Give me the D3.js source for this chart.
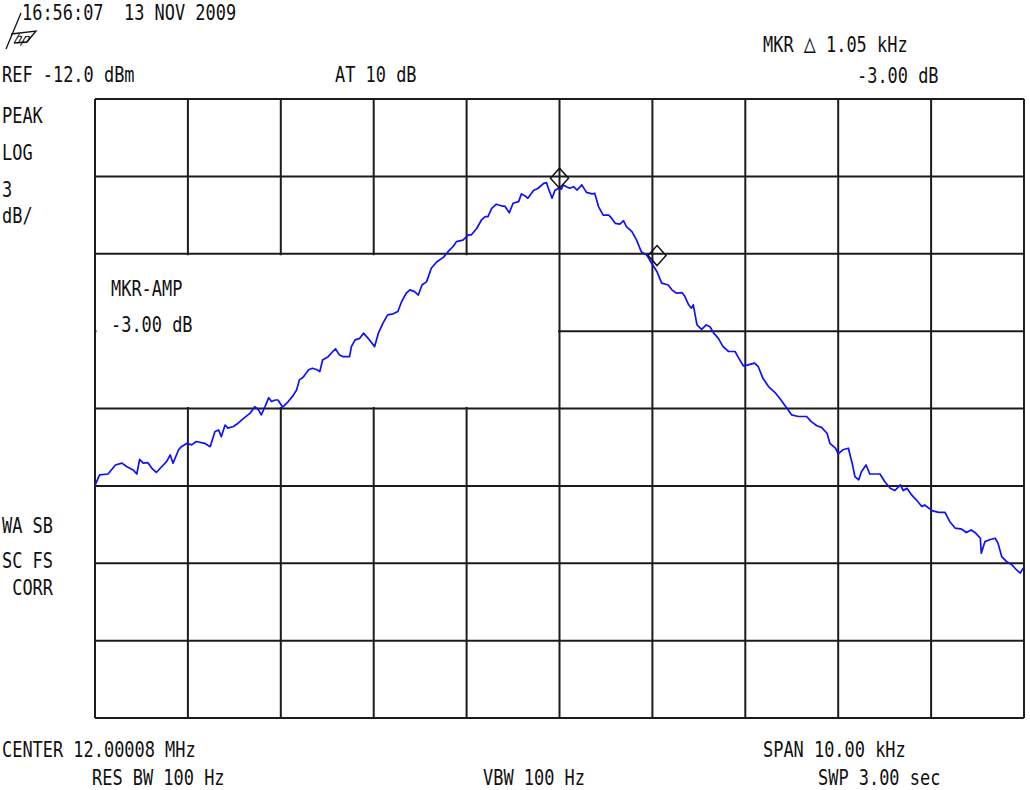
<!DOCTYPE html>
<html>
<head>
<meta charset="utf-8">
<script src="https://cdn.jsdelivr.net/npm/d3@7"></script>
<style>
  html, body { margin: 0; padding: 0; background: #fff; }
  svg { display: block; }
  text { font-family: "DejaVu Sans Mono", "Liberation Mono", monospace; font-size: 22px; fill: #111; white-space: pre; }
</style>
</head>
<body>
<svg id="chart" width="1030" height="790"></svg>
<script>
// ---- Data (frequency offset from center in kHz, amplitude in dBm) ----
const traceFreq = [
  -5.00,-4.95,-4.86,-4.78,-4.71,-4.66,-4.59,-4.55,-4.52,-4.48,-4.43,-4.39,-4.34,-4.28,-4.23,-4.19,-4.16,-4.10,-4.07,-4.01,
  -3.96,-3.91,-3.82,-3.76,-3.71,-3.67,-3.64,-3.60,-3.57,-3.51,-3.46,-3.40,-3.33,-3.28,-3.24,-3.21,-3.17,-3.13,-3.10,-3.06,
  -3.03,-2.98,-2.92,-2.87,-2.83,-2.80,-2.76,-2.70,-2.66,-2.61,-2.58,-2.55,-2.49,-2.44,-2.41,-2.37,-2.33,-2.26,-2.24,-2.20,
  -2.15,-2.11,-2.06,-1.99,-1.95,-1.90,-1.85,-1.79,-1.74,-1.70,-1.65,-1.61,-1.56,-1.52,-1.48,-1.43,-1.38,-1.32,-1.25,-1.20,
  -1.14,-1.11,-1.04,-0.98,-0.95,-0.89,-0.84,-0.80,-0.77,-0.73,-0.68,-0.62,-0.59,-0.54,-0.50,-0.44,-0.41,-0.37,-0.34,-0.28,
  -0.23,-0.17,-0.14,-0.12,-0.08,-0.05,-0.01,
  0.02,0.04,0.08,0.11,0.15,0.19,0.24,0.29,0.35,0.38,0.42,0.47,0.53,0.56,0.60,0.65,0.69,0.72,0.78,0.83,
  0.88,0.94,0.99,1.05,1.10,1.17,1.21,1.26,1.32,1.35,1.39,1.42,1.44,1.48,1.53,1.58,1.62,1.66,1.71,1.76,
  1.82,1.89,1.92,1.98,2.03,2.10,2.14,2.19,2.25,2.32,2.37,2.43,2.50,2.57,2.66,2.71,2.77,2.82,2.88,2.91,
  2.97,3.00,3.05,3.11,3.15,3.18,3.22,3.25,3.30,3.34,3.40,3.45,3.50,3.56,3.61,3.67,3.70,3.74,3.79,3.84,
  3.90,3.93,4.01,4.08,4.15,4.20,4.26,4.33,4.38,4.43,4.48,4.53,4.54,4.58,4.63,4.69,4.72,4.76,4.81,4.87,
  4.92,4.96,4.99
];
const traceAmp = [
  -26.98,-26.57,-26.54,-26.19,-26.12,-26.25,-26.38,-26.54,-25.97,-26.12,-26.10,-26.31,-26.48,-26.25,-26.06,-25.80,-26.12,-25.60,-25.48,-25.35,
  -25.41,-25.28,-25.35,-25.48,-24.90,-24.83,-25.09,-24.64,-24.76,-24.70,-24.57,-24.38,-24.18,-23.93,-24.05,-24.25,-23.93,-23.58,-23.73,-23.67,
  -23.67,-23.95,-23.73,-23.51,-23.28,-22.89,-22.79,-22.50,-22.44,-22.50,-22.57,-22.12,-21.99,-21.79,-21.69,-21.92,-21.99,-21.99,-21.60,-21.34,
  -21.28,-21.08,-21.28,-21.60,-21.08,-20.69,-20.37,-20.33,-20.24,-19.86,-19.53,-19.40,-19.47,-19.60,-19.21,-19.08,-18.56,-18.31,-18.14,-17.92,
  -17.70,-17.53,-17.47,-17.27,-17.27,-17.01,-16.69,-16.56,-16.56,-16.24,-16.08,-16.15,-16.15,-16.41,-16.04,-15.98,-15.68,-15.76,-15.85,-15.55,
  -15.46,-15.27,-15.24,-15.46,-15.85,-15.55,-15.46,
  -15.50,-15.33,-15.41,-15.46,-15.40,-15.53,-15.33,-15.62,-15.68,-15.66,-16.17,-16.50,-16.50,-16.62,-16.82,-16.85,-16.72,-16.95,-17.14,-17.47,
  -17.92,-18.05,-18.36,-18.70,-19.14,-19.21,-19.40,-19.53,-19.51,-19.66,-19.98,-20.11,-19.98,-20.76,-20.93,-20.76,-20.83,-21.08,-21.28,-21.60,
  -21.79,-21.79,-21.99,-22.35,-22.31,-22.24,-22.38,-22.83,-23.15,-23.38,-23.60,-23.90,-24.25,-24.31,-24.31,-24.51,-24.67,-24.73,-24.96,-25.35,
  -25.54,-25.76,-25.60,-25.54,-26.12,-26.64,-26.77,-26.45,-26.19,-26.54,-26.54,-26.54,-26.83,-27.09,-27.18,-26.96,-27.18,-27.09,-27.35,-27.54,
  -27.80,-27.74,-27.96,-28.03,-28.03,-28.38,-28.64,-28.68,-28.81,-28.71,-28.83,-29.03,-29.61,-29.16,-29.09,-29.03,-29.22,-29.74,-29.93,-30.06,
  -30.26,-30.38,-30.19
];
const markerFreq = [0.00, 1.05];
const markerAmp = [-15.46, -18.46];

// axis settings (from the annotations): REF -12 dBm, 3 dB/div, 8 divs; span 10 kHz, 10 divs
const freqTicks = [-5,-4,-3,-2,-1,0,1,2,3,4,5];
const ampTicks = [-12,-15,-18,-21,-24,-27,-30,-33,-36];
// blanked annotation window (freq range, amplitude range)
const boxFreq = [-5, 0];
const boxAmp = [-24, -18];

// text annotations
const headerText = "16:56:07  13 NOV 2009";
const refText = "REF -12.0 dBm";
const attenText = "AT 10 dB";
const mkrParts = ["MKR ", "\u25B3", " 1.05 kHz"];
const mkrAmpText = "-3.00 dB";
const sideTop = ["PEAK", "LOG", "3", "dB/"];
const sideBottom = ["WA SB", "SC FS", " CORR"];
const boxText = ["MKR-AMP", "-3.00 dB"];
const centerText = "CENTER 12.00008 MHz";
const resText = "RES BW 100 Hz";
const vbwText = "VBW 100 Hz";
const spanText = "SPAN 10.00 kHz";
const swpText = "SWP 3.00 sec";

// ---- Drawing ----
const svg = d3.select("#chart");
const plot = {left: 95, top: 99, right: 1024, bottom: 718};
const x = d3.scaleLinear().domain([-5, 5]).range([plot.left, plot.right]);
const y = d3.scaleLinear().domain([-36, -12]).range([plot.bottom, plot.top]);

const gridColor = "#1c1c1c";
const grid = svg.append("g");
grid.selectAll("line.v").data(freqTicks).enter().append("line")
  .attr("x1", d => x(d)).attr("x2", d => x(d))
  .attr("y1", y(-12)).attr("y2", y(-36))
  .attr("stroke", gridColor).attr("stroke-width", 2);
grid.selectAll("line.h").data(ampTicks).enter().append("line")
  .attr("x1", x(-5)).attr("x2", x(5))
  .attr("y1", d => y(d)).attr("y2", d => y(d))
  .attr("stroke", gridColor).attr("stroke-width", 2);

// blank out the annotation window interior
svg.append("rect")
  .attr("x", x(boxFreq[0]) + 1.5)
  .attr("y", y(boxAmp[1]) + 1.5)
  .attr("width", x(boxFreq[1]) - x(boxFreq[0]) - 3)
  .attr("height", y(boxAmp[0]) - y(boxAmp[1]) - 3)
  .attr("fill", "#fff");

// trace
const traceData = traceFreq.map((f, i) => [f, traceAmp[i]]);
svg.append("path")
  .datum(traceData)
  .attr("fill", "none")
  .attr("stroke", "#1010ff")
  .attr("stroke-width", 1.7)
  .attr("stroke-linejoin", "round")
  .attr("d", d3.line().x(d => x(d[0])).y(d => y(d[1])));

// markers (diamonds sitting on the trace point)
markerFreq.forEach((f, i) => {
  const cx = x(f), by = y(markerAmp[i]);
  svg.append("path")
    .attr("d", `M${cx},${by} L${cx + 9},${by - 10} L${cx},${by - 20} L${cx - 9},${by - 10} Z`)
    .attr("fill", "none").attr("stroke", "#111").attr("stroke-width", 1.5);
});

// text helper: condensed monospaced look
function label(str, tx, ty) {
  return svg.append("text")
    .attr("transform", `translate(${tx},${ty}) scale(0.77,1)`)
    .text(str);
}

// hp logo
const logo = svg.append("g").attr("stroke", "#111").attr("fill", "none").attr("stroke-width", 1.3);
logo.append("line").attr("x1", 6).attr("y1", 49).attr("x2", 21).attr("y2", 13);
logo.append("path").attr("d", "M11,34 L36,31 L27,42 L14,43");
svg.append("text").attr("transform", "translate(13,43) skewX(-20)")
  .style("font-size", "13px").style("font-style", "italic").text("hp");

label(headerText, 22, 20);
label(refText, 2, 82);
label(attenText, 335, 82);
const mk = svg.append("text").attr("transform", "translate(763,52) scale(0.77,1)");
mk.append("tspan").text(mkrParts[0]);
mk.append("tspan").style("font-size", "26px").text(mkrParts[1]);
mk.append("tspan").text(mkrParts[2]);
label(mkrAmpText, 857, 83);

[123, 160, 197, 223].forEach((by, i) => label(sideTop[i], 2, by));
[533, 568, 595].forEach((by, i) => label(sideBottom[i], 2, by));

label(boxText[0], 111, 296);
label(boxText[1], 111, 332);

label(centerText, 2, 757);
label(resText, 92, 785);
label(vbwText, 483, 785);
label(spanText, 763, 757);
label(swpText, 818, 785);
</script>
</body>
</html>
